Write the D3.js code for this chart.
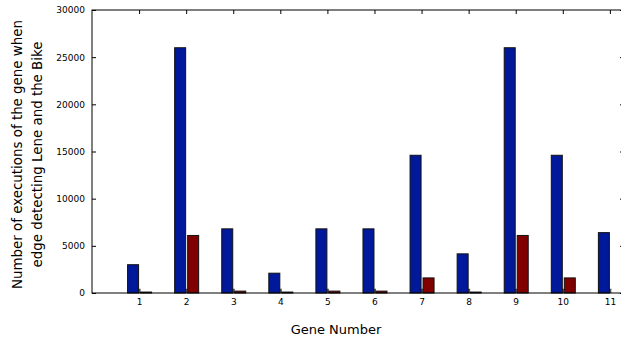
<!DOCTYPE html>
<html>
<head>
<meta charset="utf-8">
<script src="https://cdn.jsdelivr.net/npm/d3@7"></script>
<style>
  body { margin: 0; background: #fff; }
  text { font-family: "DejaVu Sans", Verdana, sans-serif; }
</style>
</head>
<body>
<div id="chart"></div>
<script>
const genes = [1, 2, 3, 4, 5, 6, 7, 8, 9, 10, 11];
const blueValues = [3000, 26000, 6800, 2100, 6800, 6800, 14600, 4150, 26000, 14600, 6400];
const redValues = [100, 6100, 200, 100, 200, 200, 1600, 100, 6100, 1600, 0];
const greyValues = [450, 450, 450, 450, 450, 450, 450, 450, 450, 450, 450];
const yTicks = [0, 5000, 10000, 15000, 20000, 25000, 30000];

const W = 621, H = 339;
const MARGIN = {top: 10, right: -3, bottom: 46, left: 92};
const BAR_W = 11;

const svg = d3.select('#chart').append('svg')
  .attr('width', W)
  .attr('height', H);

const x = d3.scaleLinear()
  .domain([0, 11.3])
  .range([MARGIN.left, W - MARGIN.right]);

const y = d3.scaleLinear()
  .domain([0, 30000])
  .range([H - MARGIN.bottom, MARGIN.top]);

// bars
const g = svg.append('g');

g.selectAll('.grey').data(genes).enter().append('rect')
  .attr('x', d => x(d) - 1)
  .attr('width', 2.5)
  .attr('y', (d, i) => y(greyValues[i]))
  .attr('height', (d, i) => y(0) - y(greyValues[i]))
  .attr('fill', '#555');

g.selectAll('.blue').data(genes).enter().append('rect')
  .attr('x', d => x(d) - BAR_W - 0.5)
  .attr('width', BAR_W)
  .attr('y', (d, i) => y(blueValues[i]))
  .attr('height', (d, i) => y(0) - y(blueValues[i]))
  .attr('fill', '#00189a')
  .attr('stroke', '#111')
  .attr('stroke-width', 1);

g.selectAll('.red').data(genes).enter().append('rect')
  .attr('x', d => x(d) + 1.5)
  .attr('width', BAR_W)
  .attr('y', (d, i) => y(redValues[i]))
  .attr('height', (d, i) => y(0) - y(redValues[i]))
  .attr('fill', '#800000')
  .attr('stroke', '#111')
  .attr('stroke-width', 1)
  .attr('opacity', (d, i) => redValues[i] > 0 ? 1 : 0);

// frame
svg.append('rect')
  .attr('x', MARGIN.left)
  .attr('y', MARGIN.top)
  .attr('width', W - MARGIN.right - MARGIN.left)
  .attr('height', y(0) - MARGIN.top)
  .attr('fill', 'none')
  .attr('stroke', '#000')
  .attr('stroke-width', 1);

// left axis
const yAxis = d3.axisLeft(y)
  .tickValues(yTicks)
  .tickSize(-4)
  .tickPadding(7)
  .tickFormat(d3.format('d'));

svg.append('g')
  .attr('transform', 'translate(' + MARGIN.left + ',0)')
  .call(yAxis)
  .call(a => a.select('.domain').remove())
  .call(a => a.selectAll('text').attr('font-size', 9).attr('fill', '#000'));

// right ticks
const yRight = d3.axisRight(y)
  .tickValues(yTicks)
  .tickSize(-4)
  .tickFormat('');

svg.append('g')
  .attr('transform', 'translate(' + (W - MARGIN.right) + ',0)')
  .call(yRight)
  .call(a => a.select('.domain').remove());

// bottom axis labels
const xAxis = d3.axisBottom(x)
  .tickValues(genes)
  .tickSize(0)
  .tickPadding(6)
  .tickFormat(d3.format('d'));

svg.append('g')
  .attr('transform', 'translate(0,' + y(0) + ')')
  .call(xAxis)
  .call(a => a.select('.domain').remove())
  .call(a => a.selectAll('text').attr('font-size', 9).attr('fill', '#000'));

// top ticks
const xTop = d3.axisTop(x)
  .tickValues(genes)
  .tickSize(-4)
  .tickFormat('');

svg.append('g')
  .attr('transform', 'translate(0,' + MARGIN.top + ')')
  .call(xTop)
  .call(a => a.select('.domain').remove());

// titles
svg.append('text')
  .attr('x', 336)
  .attr('y', 334)
  .attr('text-anchor', 'middle')
  .attr('font-size', 13)
  .text('Gene Number');

const yt = svg.append('text')
  .attr('transform', 'translate(22,' + ((MARGIN.top + y(0)) / 2 + 3) + ') rotate(-90)')
  .attr('text-anchor', 'middle')
  .attr('font-size', 13.4);
yt.append('tspan').attr('x', 0).attr('dy', 0).text('Number of executions of the gene when');
yt.append('tspan').attr('x', 0).attr('dy', 20).text('edge detecting Lene and the Bike');
</script>
</body>
</html>
